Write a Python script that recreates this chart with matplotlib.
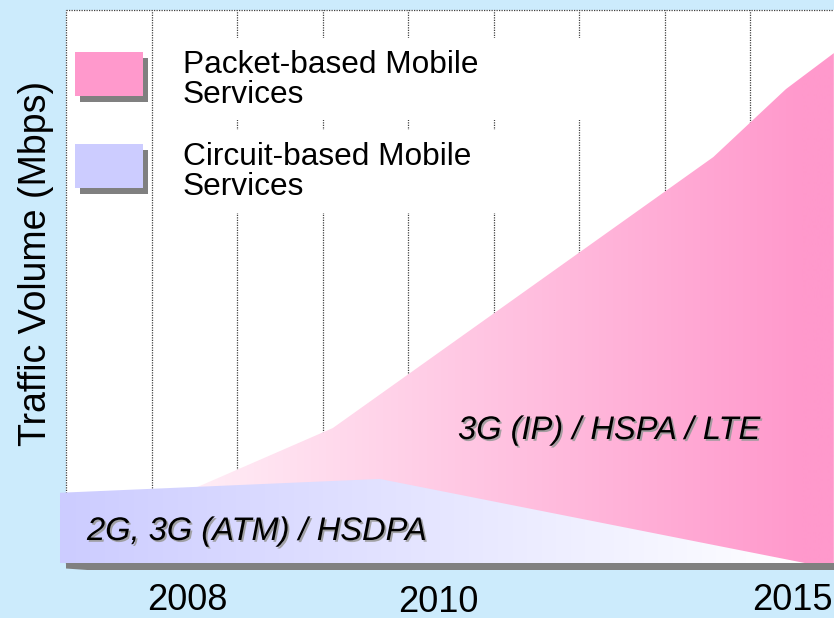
import numpy as np
import matplotlib
matplotlib.use("Agg")
import matplotlib.pyplot as plt
from matplotlib.patches import Polygon, Rectangle
from matplotlib.transforms import Affine2D
import matplotlib.patheffects as pe

# ---------------- data (conceptual traffic volume, 0-100 scale) ----------------
grid_x = [1, 2, 3, 4, 5, 6, 7, 8]                     # vertical grid positions
packet_x = [0.0, 3.12, 7.57, 8.42, 8.98]               # packet-based services
packet_v = [3.4, 24.4, 73.4, 85.7, 92.2]
circuit_x = [-0.07, 3.67, 8.64]                        # circuit-based services
circuit_v = [12.7, 15.2, 0.0]
year_labels = ["2008", "2010", "2015"]
year_px = [187, 438, 792]
year_py = [600, 602, 600]
legend_labels = ["Packet-based Mobile\nServices", "Circuit-based Mobile\nServices"]
area_labels = ["3G (IP) / HSPA / LTE", "2G, 3G (ATM) / HSDPA"]

W, H = 834, 618
BG = "#CCEBFC"
PINK = np.array([255, 153, 204]) / 255.0
LAV = np.array([204, 204, 255]) / 255.0
FONT = ["Liberation Sans", "DejaVu Sans"]

fig = plt.figure(figsize=(W / 100, H / 100), dpi=100, facecolor=BG)
PX = Affine2D().scale(1, -1).translate(0, H)  # top-left pixel coords

ax = fig.add_axes([60 / W, (H - 570) / H, (834 - 60) / W, (570 - 10) / H])
XMIN, XMAX = -0.0702, 8.982
ax.set_xlim(XMIN, XMAX)
ax.set_ylim(-1.266, 100)
ax.axis("off")

# plot area
ax.add_patch(Rectangle((0, 0), XMAX, 100, facecolor="white", edgecolor="none", zorder=0))
dot = dict(color="#404040", lw=0.9, linestyle=(0, (1, 1)))
ax.plot([0, XMAX], [100, 100], zorder=1, clip_on=False, **dot)
ax.plot([0, 0], [0, 100], zorder=1, **dot)
for gx in grid_x:
    ax.plot([gx, gx], [0, 100], zorder=1, **dot)

# white legend backgrounds hiding the grid
for (x0, y0, x1, y1) in [(158, 38, 620, 120), (158, 130, 540, 213)]:
    ax.add_patch(Rectangle((x0, y0), x1 - x0, y1 - y0, transform=PX,
                           facecolor="white", edgecolor="none", zorder=1.5, clip_on=False))


def gradient_fill(verts, c_left, c_right, f0, f1, z):
    poly = Polygon(verts, closed=True, facecolor="none", edgecolor="none", zorder=z)
    ax.add_patch(poly)
    n = 400
    xs = np.linspace(XMIN, XMAX, n)
    f = np.clip((xs - f0) / (f1 - f0), 0, 1)[:, None]
    cols = c_left[None, :] * (1 - f) + c_right[None, :] * f
    img = cols[None, :, :]
    im = ax.imshow(img, extent=[XMIN, XMAX, -1.266, 100], aspect="auto",
                   interpolation="bilinear", zorder=z, origin="lower")
    im.set_clip_path(poly)


# packet-based (back) area
pverts = [(packet_x[0], 0)] + list(zip(packet_x, packet_v)) + [(packet_x[-1], 0)]
gradient_fill(pverts, np.array([1.0, 1.0, 1.0]), PINK, 0.0, 8.6, 3)

# floor shadow
ax.add_patch(Polygon([(0, 0), (0, -1.0), (0.25, -1.266), (XMAX, -1.266), (XMAX, 0)],
                     closed=True, facecolor="#808080", edgecolor="none", zorder=3.5))

# circuit-based (front) area
cverts = [(circuit_x[0], 0)] + list(zip(circuit_x, circuit_v))
gradient_fill(cverts, LAV, np.array([1.0, 1.0, 1.0]), circuit_x[0], circuit_x[-1], 4)

# area labels
shadow = [pe.SimplePatchShadow(offset=(1.3, -1.3), shadow_rgbFace="#9a9a9a", alpha=0.9), pe.Normal()]
ax.text(458, 439, area_labels[0], transform=PX, fontsize=23.5, style="italic",
        family=FONT, ha="left", va="baseline", zorder=6, path_effects=shadow)
ax.text(87, 540, area_labels[1], transform=PX, fontsize=23.5, style="italic",
        family=FONT, ha="left", va="baseline", zorder=6, path_effects=shadow)

# legend
for i, (lab, col) in enumerate(zip(legend_labels, [PINK, LAV])):
    y0 = 52 + i * 92
    ax.add_patch(Rectangle((80, y0 + 6), 68, 44, transform=PX, facecolor="#808080",
                           edgecolor="none", zorder=5, clip_on=False))
    ax.add_patch(Rectangle((75, y0), 68, 44, transform=PX, facecolor=col,
                           edgecolor="none", zorder=5.1, clip_on=False))
    ax.text(183, 103 + i * 92, lab, transform=PX, fontsize=22.8, family=FONT,
            ha="left", va="baseline", linespacing=1.0, zorder=6)

# year labels
for lab, x, y in zip(year_labels, year_px, year_py):
    fig.text(x, y, lab, transform=PX, fontsize=26, family=FONT, ha="center", va="center")

# y-axis label
fig.text(36, 263, "Traffic Volume (Mbps)", transform=PX, fontsize=27, family=FONT,
         rotation=90, ha="center", va="center")

fig.savefig("out.png", dpi=100, facecolor=BG)
